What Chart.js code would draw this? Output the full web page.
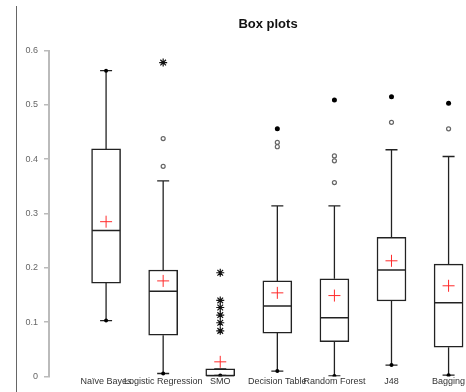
<!DOCTYPE html>
<html>
<head>
<meta charset="utf-8">
<script src="https://cdn.jsdelivr.net/npm/chart.js@4.4.1/dist/chart.umd.min.js"></script>
<style>
  html, body { margin: 0; padding: 0; background: #fff; overflow: hidden; }
  #wrap { position: relative; width: 536px; height: 392px; }
  #frameLine { position: absolute; left: 16px; top: 6px; bottom: 0; width: 1px; background: #666; }
</style>
</head>
<body>
<div id="wrap">
  <div id="frameLine"></div>
  <canvas id="boxChart" width="536" height="392"></canvas>
</div>
<script>
// 분류기 이름 (x축)
const categories = ['Naïve Bayes', 'Logistic Regression', 'SMO', 'Decision Table', 'Random Forest', 'J48', 'Bagging'];

// 상자그림 다섯 수치 + 평균
const mins    = [0.103, 0.0055, 0.002, 0.010, 0.001, 0.021, 0.0025];
const q1s     = [0.172, 0.076, 0.001, 0.080, 0.064, 0.139, 0.054];
const medians = [0.269, 0.157, 0.001, 0.130, 0.108, 0.196, 0.136];
const q3s     = [0.419, 0.196, 0.014, 0.176, 0.180, 0.256, 0.207];
const maxs    = [0.563, 0.360, 0.014, 0.314, 0.314, 0.4175, 0.405];
const means   = [0.285, 0.176, 0.027, 0.154, 0.149, 0.213, 0.167];

// 이상치 (카테고리별)
const outlierCircles = [[], [0.387, 0.438], [], [0.431, 0.423], [0.406, 0.397, 0.357], [0.468], [0.456]];
const outlierDots    = [[], [], [], [0.456], [0.509], [0.515], [0.503]];
const outlierStars   = [[], [0.578], [0.191, 0.140, 0.127, 0.113, 0.099, 0.084], [], [], [], []];

// 위쪽 수염 끝에 점이 찍힌 카테고리
const topDotted = ['Naïve Bayes'];

// y축 눈금
const yTicks = [0, 0.1, 0.2, 0.3, 0.4, 0.5, 0.6];

const ink = '#222';
const idx = categories.map((c, i) => i);

function flatPoints(lists) {
    var pts = [];
    lists.forEach(function (list, i) {
        list.forEach(function (v) { pts.push({ x: i, y: v }); });
    });
    return pts;
}

// 수염 선 (null 로 끊어서 그림)
var whiskerData = [];
idx.forEach(function (i) {
    whiskerData.push({ x: i, y: q3s[i] }, { x: i, y: maxs[i] }, { x: i, y: null });
    whiskerData.push({ x: i, y: q1s[i] }, { x: i, y: mins[i] }, { x: i, y: null });
});

var capData = [];
idx.forEach(function (i) {
    capData.push({ x: i, y: maxs[i] }, { x: i, y: mins[i] });
});

var capDotData = idx.map(i => ({ x: i, y: mins[i] }));
idx.forEach(function (i) {
    if (topDotted.indexOf(categories[i]) >= 0) capDotData.push({ x: i, y: maxs[i] });
});

var ctx = document.getElementById('boxChart').getContext('2d');
var boxChart = new Chart(ctx, {
    type: 'bar',
    data: {
        datasets: [
            {
                type: 'bar',
                data: idx.map(i => ({ x: i, y: [q1s[i], q3s[i]] })),
                backgroundColor: '#fff',
                borderColor: ink,
                borderWidth: 1.5,
                borderSkipped: false,
                barThickness: 29,
                grouped: false,
                order: 5
            },
            {
                type: 'scatter',
                data: whiskerData,
                showLine: true,
                spanGaps: false,
                pointRadius: 0,
                borderColor: ink,
                borderWidth: 1.3,
                order: 6
            },
            {
                type: 'scatter',
                data: capData,
                pointStyle: 'line',
                pointRadius: 6,
                borderColor: ink,
                borderWidth: 1.3,
                order: 4
            },
            {
                type: 'scatter',
                data: capDotData,
                pointStyle: 'circle',
                pointRadius: 2,
                backgroundColor: '#000',
                borderColor: '#000',
                borderWidth: 0,
                order: 3
            },
            {
                type: 'scatter',
                data: idx.map(i => ({ x: i, y: medians[i] })),
                pointStyle: 'line',
                pointRadius: 14,
                borderColor: ink,
                borderWidth: 1.5,
                order: 2
            },
            {
                type: 'scatter',
                data: idx.map(i => ({ x: i, y: means[i] })),
                pointStyle: 'cross',
                pointRadius: 6,
                borderColor: '#ff2b2b',
                borderWidth: 1,
                order: 1
            },
            {
                type: 'scatter',
                data: flatPoints(outlierCircles),
                pointStyle: 'circle',
                pointRadius: 2,
                backgroundColor: '#fff',
                borderColor: '#666',
                borderWidth: 1.2,
                order: 1
            },
            {
                type: 'scatter',
                data: flatPoints(outlierDots),
                pointStyle: 'circle',
                pointRadius: 2.5,
                backgroundColor: '#000',
                borderColor: '#000',
                borderWidth: 0,
                order: 1
            },
            {
                type: 'scatter',
                data: flatPoints(outlierStars),
                pointStyle: 'star',
                pointRadius: 4,
                borderColor: '#111',
                borderWidth: 1.2,
                order: 1
            }
        ]
    },
    options: {
        responsive: false,
        animation: false,
        layout: { padding: { left: 0, right: 0, top: 0, bottom: 2 } },
        plugins: {
            legend: { display: false },
            tooltip: { enabled: false },
            title: {
                display: true,
                text: 'Box plots',
                color: '#111',
                font: { family: 'Liberation Sans', size: 13, weight: 'bold' },
                padding: { top: 17, bottom: 18 }
            }
        },
        scales: {
            x: {
                type: 'linear',
                offset: false,
                min: -1,
                max: 7.26,
                grid: { display: false, drawTicks: false },
                border: { display: false },
                ticks: {
                    stepSize: 1,
                    autoSkip: false,
                    maxRotation: 0,
                    minRotation: 0,
                    padding: 0,
                    color: '#333',
                    font: { family: 'Liberation Sans', size: 9 },
                    callback: function (v) {
                        var k = Math.round(v);
                        return (Math.abs(v - k) < 1e-6 && categories[k]) ? categories[k] : '';
                    }
                }
            },
            y: {
                min: yTicks[0],
                max: yTicks[yTicks.length - 1],
                afterFit: function (scale) { scale.width = 49; },
                grid: { drawOnChartArea: false, tickLength: 5, color: '#bbb', lineWidth: 1.5 },
                border: { color: '#bbb', width: 2 },
                ticks: {
                    stepSize: 0.1,
                    padding: 6,
                    color: '#666',
                    font: { family: 'Liberation Sans', size: 9 },
                    callback: function (v) { return v === 0 ? '0' : v.toFixed(1); }
                }
            }
        }
    }
});
</script>
</body>
</html>
